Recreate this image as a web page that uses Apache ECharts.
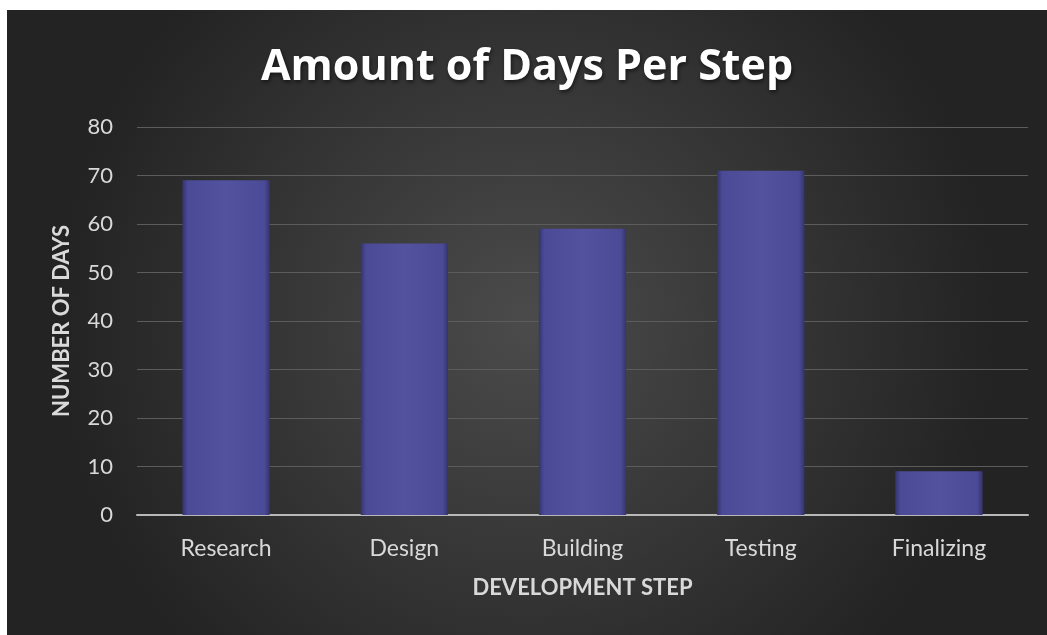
<!DOCTYPE html>
<html><head><meta charset="utf-8">
<script src="https://cdn.jsdelivr.net/npm/echarts@6/dist/echarts.min.js"></script>
<style>html,body{margin:0;padding:0;background:#fff;}#c{position:absolute;left:7px;top:10px;width:1040px;height:625px;}</style>
</head><body><div id="c"></div>
<script>
const categories = ['Research','Design','Building','Testing','Finalizing'];
const days = [69, 56, 59, 71, 9];
const yTicks = [0,10,20,30,40,50,60,70,80];

const chart = echarts.init(document.getElementById('c'));
const barColor = {type:'linear',x:0,y:0,x2:1,y2:0,colorStops:[
  {offset:0,color:'#34346e'},{offset:0.06,color:'#4a4a96'},{offset:0.5,color:'#52529e'},{offset:0.94,color:'#4a4a96'},{offset:1,color:'#34346e'}]};
const FONT = 'Lato';
chart.setOption({
  backgroundColor:{type:'radial',x:0.5,y:0.5,r:0.75,colorStops:[{offset:0,color:'#4b4b4b'},{offset:1,color:'#232323'}]},
  title:{text:'Amount of Days Per Step',left:'center',top:31,
    textStyle:{color:'#ffffff',fontSize:43,fontWeight:'bold',fontFamily:'Open Sans',
      textShadowColor:'rgba(0,0,0,0.6)',textShadowBlur:4,textShadowOffsetX:1,textShadowOffsetY:2}},
  grid:{left:130,right:19,top:117,bottom:120},
  xAxis:{type:'category',data:categories,
    name:'DEVELOPMENT STEP',nameLocation:'middle',nameGap:62,
    nameTextStyle:{color:'#d9d9d9',fontSize:22,fontWeight:'bold',fontFamily:FONT},
    axisLine:{lineStyle:{color:'#b8b8b8',width:2}},axisTick:{show:false},
    axisLabel:{color:'#d9d9d9',fontSize:23,margin:22,fontFamily:FONT}},
  yAxis:{type:'value',min:yTicks[0],max:yTicks[yTicks.length-1],interval:10,
    name:'NUMBER OF DAYS',nameLocation:'middle',nameGap:64,nameRotate:90,
    nameTextStyle:{color:'#d9d9d9',fontSize:22,fontWeight:'bold',fontFamily:FONT},
    axisLine:{show:false},axisTick:{show:false},
    axisLabel:{color:'#d9d9d9',fontSize:22,margin:24,fontFamily:FONT},
    splitLine:{lineStyle:{color:'#5c5c5c',width:1}}},
  series:[{type:'bar',data:days,barWidth:'49%',
    itemStyle:{color:barColor,
      shadowColor:'rgba(0,0,0,0.5)',shadowBlur:6,shadowOffsetX:2,shadowOffsetY:0}}]
});
</script></body></html>
